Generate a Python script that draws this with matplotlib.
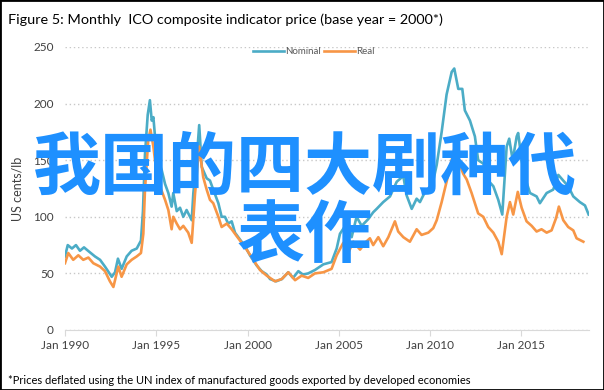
import matplotlib
matplotlib.use("Agg")
import matplotlib.pyplot as plt
from matplotlib.patches import Rectangle

# ICO composite indicator price, US cents/lb
nominal_years = [1990.00, 1990.15, 1990.38, 1990.60, 1990.82, 1991.04, 1991.26, 1991.64, 1991.92, 1992.19,
                 1992.56, 1992.74, 1992.90, 1993.10, 1993.38, 1993.65, 1993.93, 1994.16, 1994.27, 1994.38,
                 1994.53, 1994.65, 1994.75, 1994.84, 1994.93, 1995.11, 1995.30, 1995.48, 1995.66, 1995.84,
                 1995.93, 1996.12, 1996.30, 1996.48, 1996.66, 1996.94, 1997.03, 1997.21, 1997.35, 1997.49,
                 1997.76, 1997.94, 1998.12, 1998.40, 1998.58, 1998.76, 1998.94, 1999.13, 1999.31, 1999.58,
                 1999.86, 2000.13, 2000.50, 2000.77, 2001.05, 2001.23, 2001.56, 2001.88, 2002.23, 2002.49,
                 2002.78, 2003.03, 2003.32, 2003.69, 2004.15, 2004.60, 2004.88, 2005.06, 2005.43, 2005.70,
                 2005.97, 2006.25, 2006.61, 2006.88, 2007.07, 2007.43, 2007.80, 2008.17, 2008.53, 2008.71,
                 2008.99, 2009.26, 2009.44, 2009.72, 2010.08, 2010.36, 2010.63, 2010.90, 2011.18, 2011.32,
                 2011.54, 2011.76, 2011.90, 2012.18, 2012.45, 2012.63, 2012.91, 2013.18, 2013.46, 2013.73,
                 2013.95, 2014.19, 2014.33, 2014.52, 2014.74, 2014.82, 2015.01, 2015.19, 2015.47, 2015.83,
                 2016.01, 2016.38, 2016.74, 2017.02, 2017.29, 2017.56, 2017.84, 2018.20, 2018.48, 2018.68]
nominal = [65, 75, 72, 75, 70, 73, 70, 65, 62, 56,
           47, 51, 63, 54, 65, 70, 72, 79, 105, 155,
           190, 203, 185, 188, 171, 150, 141, 129, 121, 109,
           121, 105, 108, 100, 106, 97, 121, 150, 181, 144,
           134, 132, 124, 112, 100, 100, 94, 96, 86, 80,
           74, 66, 57, 52, 49, 45, 43, 45, 51, 46,
           52, 49, 50, 53, 58, 60, 72, 85, 94, 82,
           100, 92, 98, 104, 107, 113, 118, 131, 136, 119,
           107, 116, 113, 122, 125, 146, 175, 208, 228, 231,
           213, 213, 194, 185, 171, 150, 147, 132, 127, 115,
           102, 162, 169, 150, 171, 174, 150, 135, 121, 118,
           112, 121, 124, 137, 132, 127, 118, 113, 110, 102]

real_years = [1990.00, 1990.18, 1990.45, 1990.73, 1991.00, 1991.28, 1991.55, 1991.92, 1992.19, 1992.46,
              1992.65, 1992.92, 1993.10, 1993.38, 1993.65, 1993.93, 1994.16, 1994.29, 1994.38, 1994.56,
              1994.68, 1994.84, 1995.02, 1995.20, 1995.48, 1995.66, 1995.84, 1995.93, 1996.12, 1996.30,
              1996.48, 1996.75, 1996.94, 1997.12, 1997.35, 1997.57, 1997.76, 1997.94, 1998.12, 1998.40,
              1998.58, 1998.86, 1999.13, 1999.40, 1999.68, 1999.95, 2000.31, 2000.68, 2001.05, 2001.50,
              2001.87, 2002.23, 2002.60, 2002.96, 2003.32, 2003.69, 2004.15, 2004.60, 2004.88, 2005.24,
              2005.51, 2005.79, 2006.16, 2006.43, 2006.70, 2006.88, 2007.16, 2007.43, 2007.71, 2008.07,
              2008.25, 2008.53, 2008.89, 2009.26, 2009.53, 2009.90, 2010.17, 2010.36, 2010.63, 2010.90,
              2011.18, 2011.32, 2011.54, 2011.81, 2012.00, 2012.27, 2012.45, 2012.63, 2012.91, 2013.18,
              2013.46, 2013.73, 2013.92, 2014.19, 2014.37, 2014.55, 2014.80, 2015.01, 2015.28, 2015.56,
              2015.83, 2016.10, 2016.38, 2016.65, 2016.90, 2017.05, 2017.29, 2017.56, 2017.84, 2018.02,
              2018.39]
real = [59, 68, 62, 66, 62, 64, 59, 56, 52, 43,
        38, 56, 47, 58, 62, 65, 68, 85, 124, 168,
        177, 162, 138, 127, 115, 106, 89, 100, 94, 89,
        92, 86, 77, 120, 162, 135, 124, 115, 112, 100,
        91, 94, 89, 83, 77, 71, 62, 53, 48, 43,
        45, 51, 44, 48, 46, 50, 51, 54, 66, 77,
        68, 78, 71, 77, 81, 75, 82, 74, 82, 96,
        87, 82, 78, 89, 84, 86, 90, 97, 113, 131,
        150, 160, 150, 138, 133, 121, 112, 103, 100, 91,
        86, 78, 67, 100, 113, 102, 122, 108, 96, 92,
        87, 89, 86, 88, 99, 109, 97, 91, 88, 81,
        78]

tick_years = [1990, 1995, 2000, 2005, 2010, 2015]
tick_labels = ["Jan 1990", "Jan 1995", "Jan 2000", "Jan 2005", "Jan 2010", "Jan 2015"]
y_ticks = [0, 50, 100, 150, 200, 250]

plt.rcParams['font.family'] = ['Lato', 'DejaVu Sans']

fig = plt.figure(figsize=(6.04, 3.90), dpi=100)
ax = fig.add_axes([65 / 604, 60 / 390, 524 / 604, 283 / 390])

ax.plot(nominal_years, nominal, color='#4BACC6', lw=1.9, label='Nominal')
ax.plot(real_years, real, color='#F79646', lw=1.9, label='Real')

ax.set_xlim(1990, 2018.7)
ax.set_ylim(0, 250)
ax.set_yticks(y_ticks)
ax.set_xticks(tick_years)
ax.set_xticklabels(tick_labels)
ax.grid(axis='y', color='#C8C8C8', linestyle=(0, (1, 2)), lw=1)
ax.set_axisbelow(True)
for s in ['top', 'right', 'left']:
    ax.spines[s].set_visible(False)
ax.spines['bottom'].set_color('#D9D9D9')
ax.tick_params(axis='y', length=0, pad=8, labelsize=8.5, labelcolor='#404040')
ax.tick_params(axis='x', length=4, color='#D9D9D9', pad=3, labelsize=8.5, labelcolor='#404040')
ax.set_ylabel('US cents/lb', fontsize=9, color='#404040', labelpad=7)

ax.legend(loc='upper center', bbox_to_anchor=(0.475, 1.03), ncol=2, frameon=False, fontsize=7,
          handlelength=3.2, handletextpad=0.1, columnspacing=0.3, labelcolor='#595959')

fig.text(8 / 604, 1 - 20 / 390, 'Figure 5: Monthly  ICO composite indicator price (base year = 2000*)',
         fontsize=10.4, va='center', ha='left')
fig.text(8 / 604, 1 - 381 / 390,
         '*Prices deflated using the UN index of manufactured goods exported by developed economies',
         fontsize=8, va='center', ha='left')

# overlaid caption
fig.text(305 / 604, 1 - 204 / 390, '我国的四大剧种代\n表作', fontsize=49, color='#1E90FF',
         family=['Noto Sans CJK SC', 'DejaVu Sans'], weight='bold', ha='center', va='center',
         multialignment='center', linespacing=1.0)

fig.patches.append(Rectangle((0, 0), 1, 1, transform=fig.transFigure, fill=False,
                             edgecolor='black', lw=2, figure=fig))

fig.savefig('out.png', dpi=100)
